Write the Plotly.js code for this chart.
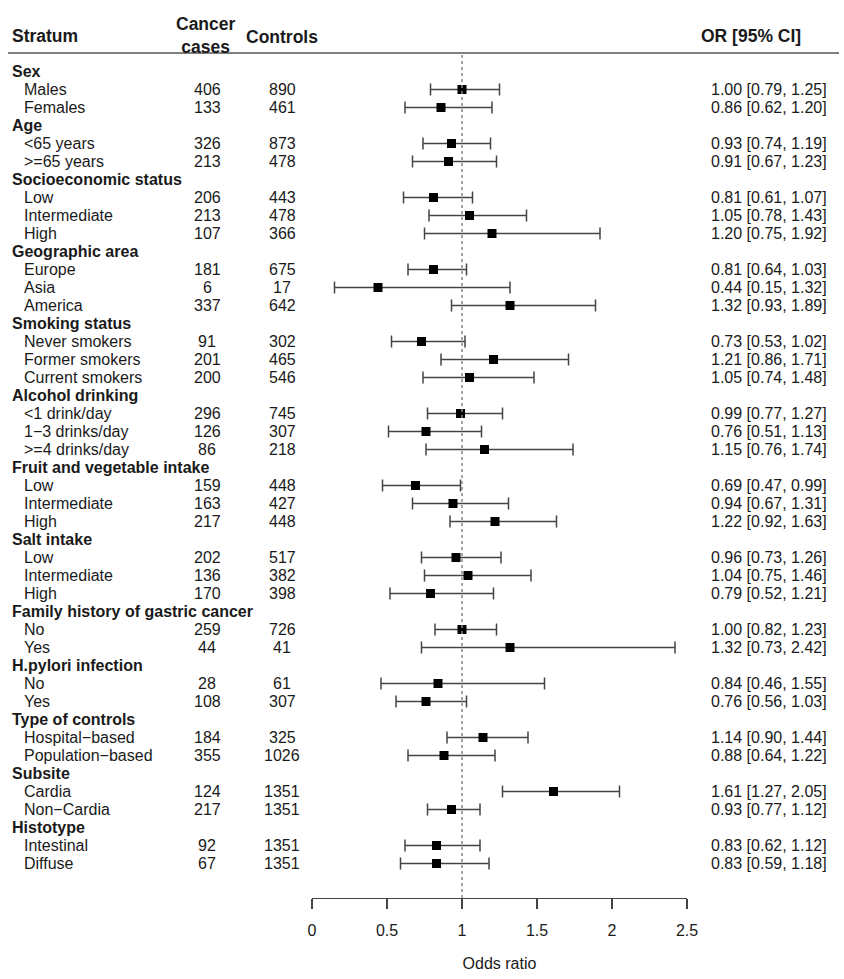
<!DOCTYPE html>
<html>
<head>
<meta charset="utf-8">
<script src="https://cdn.plot.ly/plotly-3.0.1.min.js"></script>
<style>html,body{margin:0;padding:0;background:#fff;}</style>
</head>
<body>
<div id="chart" style="width:844px;height:979px;"></div>
<script>
// ---- data ----
var labels = ["Sex","Males","Females",
  "Age","<65 years",">=65 years",
  "Socioeconomic status","Low","Intermediate","High",
  "Geographic area","Europe","Asia","America",
  "Smoking status","Never smokers","Former smokers","Current smokers",
  "Alcohol drinking","<1 drink/day","1\u22123 drinks/day",">=4 drinks/day",
  "Fruit and vegetable intake","Low","Intermediate","High",
  "Salt intake","Low","Intermediate","High",
  "Family history of gastric cancer","No","Yes",
  "H.pylori infection","No","Yes",
  "Type of controls","Hospital\u2212based","Population\u2212based",
  "Subsite","Cardia","Non\u2212Cardia",
  "Histotype","Intestinal","Diffuse"];
var cases = [null,406,133, null,326,213, null,206,213,107, null,181,6,337,
  null,91,201,200, null,296,126,86, null,159,163,217, null,202,136,170,
  null,259,44, null,28,108, null,184,355, null,124,217, null,92,67];
var controls = [null,890,461, null,873,478, null,443,478,366, null,675,17,642,
  null,302,465,546, null,745,307,218, null,448,427,448, null,517,382,398,
  null,726,41, null,61,307, null,325,1026, null,1351,1351, null,1351,1351];
var oddsRatio = [null,1.00,0.86, null,0.93,0.91, null,0.81,1.05,1.20, null,0.81,0.44,1.32,
  null,0.73,1.21,1.05, null,0.99,0.76,1.15, null,0.69,0.94,1.22, null,0.96,1.04,0.79,
  null,1.00,1.32, null,0.84,0.76, null,1.14,0.88, null,1.61,0.93, null,0.83,0.83];
var ciLow = [null,0.79,0.62, null,0.74,0.67, null,0.61,0.78,0.75, null,0.64,0.15,0.93,
  null,0.53,0.86,0.74, null,0.77,0.51,0.76, null,0.47,0.67,0.92, null,0.73,0.75,0.52,
  null,0.82,0.73, null,0.46,0.56, null,0.90,0.64, null,1.27,0.77, null,0.62,0.59];
var ciHigh = [null,1.25,1.20, null,1.19,1.23, null,1.07,1.43,1.92, null,1.03,1.32,1.89,
  null,1.02,1.71,1.48, null,1.27,1.13,1.74, null,0.99,1.31,1.63, null,1.26,1.46,1.21,
  null,1.23,2.42, null,1.55,1.03, null,1.44,1.22, null,2.05,1.12, null,1.12,1.18];
var tickVals = [0,0.5,1,1.5,2,2.5];
var tickText = ["0","0.5","1","1.5","2","2.5"];

// ---- layout helpers ----
var W = 844, H = 979;
var L = 312, R = 157, T = 0, B = 81;
var PW = W - L - R, PH = H - T - B;
function px(x){ return (x - L) / PW; }
function py(y){ return (PH - y) / PH; }
var ROW0 = 71.5, ROWH = 18;
var FONT = "Liberation Sans, Arial, Helvetica, sans-serif";
var TXT = "#1a1a1a";
var FS = 16;

var xs = [], ys = [], ep = [], em = [];
for (var i = 0; i < labels.length; i++) {
  if (oddsRatio[i] !== null) {
    xs.push(oddsRatio[i]); ys.push(i);
    ep.push(+(ciHigh[i] - oddsRatio[i]).toFixed(4));
    em.push(+(oddsRatio[i] - ciLow[i]).toFixed(4));
  }
}

var annotations = [];
for (var i = 0; i < labels.length; i++) {
  var isHead = cases[i] === null;
  annotations.push({
    xref: "paper", yref: "y", x: px(isHead ? 10 : 22), y: i,
    xanchor: "left", yanchor: "middle", showarrow: false,
    text: isHead ? "<b>" + labels[i] + "</b>" : labels[i],
    font: {family: FONT, size: FS, color: TXT}
  });
  if (!isHead) {
    annotations.push({xref:"paper", yref:"y", x: px(207), y: i, xanchor:"center", yanchor:"middle",
      showarrow:false, text: String(cases[i]), font:{family:FONT, size:FS, color:TXT}});
    annotations.push({xref:"paper", yref:"y", x: px(282), y: i, xanchor:"center", yanchor:"middle",
      showarrow:false, text: String(controls[i]), font:{family:FONT, size:FS, color:TXT}});
    annotations.push({xref:"paper", yref:"y", x: px(829), y: i, xanchor:"right", yanchor:"middle",
      showarrow:false,
      text: oddsRatio[i].toFixed(2) + " [" + ciLow[i].toFixed(2) + ", " + ciHigh[i].toFixed(2) + "]",
      font:{family:FONT, size:FS, color:TXT}});
  }
}
// column headers
var HF = {family: FONT, size: 17.5, color: TXT};
annotations.push({xref:"paper", yref:"paper", x: px(10), y: py(36), xanchor:"left", yanchor:"middle",
  showarrow:false, text:"<b>Stratum</b>", font: HF});
annotations.push({xref:"paper", yref:"paper", x: px(206), y: py(35.5), xanchor:"center", yanchor:"middle",
  showarrow:false, text:"<b>Cancer</b><br><b>cases</b>", font: HF});
annotations.push({xref:"paper", yref:"paper", x: px(282), y: py(37), xanchor:"center", yanchor:"middle",
  showarrow:false, text:"<b>Controls</b>", font: HF});
annotations.push({xref:"paper", yref:"paper", x: px(803), y: py(36), xanchor:"right", yanchor:"middle",
  showarrow:false, text:"<b>OR [95% CI]</b>", font: HF});

var shapes = [
  {type:"line", xref:"paper", yref:"paper", x0: px(8), x1: px(839), y0: py(53), y1: py(53),
   line:{color:"#555", width:1.5}},
  {type:"line", xref:"x", yref:"paper", x0: 1, x1: 1, y0: 0, y1: py(55),
   line:{color:"#888", width:1.5, dash:"dot"}}
];

var trace = {
  type: "scatter", mode: "markers", x: xs, y: ys,
  marker: {symbol: "square", size: 9, color: "#000"},
  error_x: {type: "data", symmetric: false, array: ep, arrayminus: em,
            color: "#444", thickness: 1.5, width: 6},
  cliponaxis: false, hoverinfo: "skip", showlegend: false
};

var layout = {
  width: W, height: H,
  margin: {l: L, r: R, t: T, b: B, pad: 0},
  paper_bgcolor: "#fff", plot_bgcolor: "#fff",
  font: {family: FONT, color: TXT},
  showlegend: false,
  xaxis: {
    range: [0, 2.5], showgrid: false, zeroline: false,
    showline: true, linecolor: "#444", linewidth: 1.3,
    ticks: "outside", ticklen: 10, tickwidth: 1.3, tickcolor: "#444",
    tickvals: tickVals, ticktext: tickText,
    tickfont: {family: FONT, size: FS, color: TXT},
    ticklabelstandoff: 7,
    title: {text: "Odds ratio", font: {family: FONT, size: FS, color: TXT}, standoff: 20},
    fixedrange: true
  },
  yaxis: {
    range: [(PH - ROW0) / ROWH, -ROW0 / ROWH],
    visible: false, showgrid: false, zeroline: false, fixedrange: true
  },
  annotations: annotations,
  shapes: shapes
};

Plotly.newPlot("chart", [trace], layout, {displayModeBar: false, staticPlot: true});
</script>
</body>
</html>
